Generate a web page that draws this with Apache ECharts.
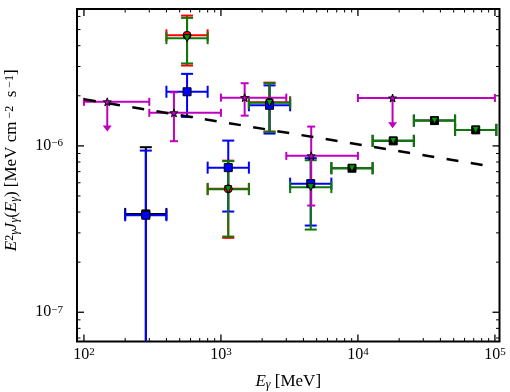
<!DOCTYPE html>
<html><head><meta charset="utf-8">
<script src="https://cdn.jsdelivr.net/npm/echarts@6/dist/echarts.min.js"></script>
<style>html,body{margin:0;padding:0;background:#fff}#c{width:510px;height:392px}</style>
</head><body><div id="c"></div>
<script>
// ---- data ----
// magenta stars (1 = upper limit, ylo = arrow tip)
const magX   = [148, 454, 1490, 4560, 17900];
const magY   = [1.84e-6, 1.58e-6, 1.95e-6, 8.71e-7, 1.94e-6];
const magXlo = [100, 300, 1000, 3000, 10000];
const magXhi = [300, 1000, 3000, 10000, 100000];
const magYlo = [1.22e-6, 1.067e-6, 1.52e-6, 4.38e-7, 1.277e-6];
const magYhi = [1.84e-6, 2.10e-6, 2.38e-6, 1.306e-6, 1.94e-6];
const magUL  = [1, 0, 0, 0, 1];
// blue squares
const blueX   = [283, 566, 1131, 2263, 4525];
const blueY   = [3.83e-7, 2.115e-6, 7.40e-7, 1.754e-6, 5.93e-7];
const blueXlo = [200, 400, 800, 1600, 3200];
const blueXhi = [400, 800, 1600, 3200, 6400];
const blueYlo = [1e-9, 1.494e-6, 4.03e-7, 1.186e-6, 3.32e-7];
const blueYhi = [9.37e-7, 2.71e-6, 1.076e-6, 2.31e-6, 8.44e-7];
// green triangles
const greenX   = [566, 1131, 2263, 4525, 9051, 18102, 36204, 72408];
const greenY   = [4.44e-6, 5.49e-7, 1.814e-6, 5.65e-7, 7.34e-7, 1.072e-6, 1.419e-6, 1.248e-6];
const greenXlo = [400, 800, 1600, 3200, 6400, 12800, 25600, 51200];
const greenXhi = [800, 1600, 3200, 6400, 12800, 25600, 51200, 102400];
const greenYlo = [3.13e-6, 2.85e-7, 1.214e-6, 3.14e-7, 7.34e-7, 1.072e-6, 1.419e-6, 1.248e-6];
const greenYhi = [5.88e-6, 8.09e-7, 2.38e-6, 8.20e-7, 7.34e-7, 1.072e-6, 1.419e-6, 1.248e-6];
// red circles
const redX   = [566, 1131, 2263];
const redY   = [4.62e-6, 5.52e-7, 1.83e-6];
const redXlo = [400, 800, 1600];
const redXhi = [800, 1600, 3200];
const redYlo = [3.04e-6, 2.80e-7, 1.22e-6];
const redYhi = [6.07e-6, 8.15e-7, 2.40e-6];
// black squares
const blackX   = [283, 9051, 18102, 36204, 72408];
const blackY   = [3.90e-7, 7.34e-7, 1.072e-6, 1.419e-6, 1.248e-6];
const blackXlo = [200, 6400, 12800, 25600, 51200];
const blackXhi = [400, 12800, 25600, 51200, 102400];
const blackYlo = [1e-9, 7.34e-7, 1.072e-6, 1.419e-6, 1.248e-6];
const blackYhi = [9.82e-7, 7.34e-7, 1.072e-6, 1.419e-6, 1.248e-6];
// dashed power law
const lineX = [100, 100000];
const lineY = [1.905e-6, 7.47e-7];
// axes
const xMin = 89, xMax = 108000;
const yMin = 6.67e-8, yMax = 6.65e-6;
const xMajor = [100, 1000, 10000, 100000];
const yMajor = [1e-7, 1e-6];

// ---- helpers ----
const rows = (X, Y, Xlo, Xhi, Ylo, Yhi, UL) =>
  X.map((x, i) => [x, Y[i], Xlo[i], Xhi[i], Ylo[i], Yhi[i], UL ? UL[i] : 0]);

function errRender(color, cap, lw) {
  return function (params, api) {
    const cs = params.coordSys;
    const T = cs.y, B = cs.y + cs.height;
    const cl = v => Math.max(T, Math.min(B, v));
    const x = api.value(0), y = api.value(1);
    const c = api.coord([x, y]);
    const pl = api.coord([api.value(2), y]), ph = api.coord([api.value(3), y]);
    const st = { stroke: color, lineWidth: lw };
    const ch = [];
    const L = (x1, y1, x2, y2) => ch.push({ type: 'line', shape: { x1, y1, x2, y2 }, style: st });
    L(pl[0], c[1], ph[0], c[1]);
    L(pl[0], c[1] - cap / 2, pl[0], c[1] + cap / 2);
    L(ph[0], c[1] - cap / 2, ph[0], c[1] + cap / 2);
    const ylo = api.value(4), yhi = api.value(5);
    if (api.value(6)) {
      const tip = api.coord([x, ylo])[1];
      L(c[0], c[1], c[0], tip - 5);
      ch.push({ type: 'polygon', shape: { points: [[c[0] - 4.5, tip - 6], [c[0] + 4.5, tip - 6], [c[0], tip]] }, style: { fill: color } });
    } else if (ylo !== yhi) {
      const a = api.coord([x, ylo])[1], b = api.coord([x, yhi])[1];
      L(c[0], cl(a), c[0], cl(b));
      if (a <= B) L(c[0] - cap / 2, a, c[0] + cap / 2, a);
      if (b >= T) L(c[0] - cap / 2, b, c[0] + cap / 2, b);
    }
    return { type: 'group', children: ch };
  };
}

function errSeries(data, color, cap, lw, z) {
  return { type: 'custom', data, renderItem: errRender(color, cap, lw), z, silent: true, animation: false,
           encode: { x: 0, y: 1 } };
}
function markSeries(X, Y, symbol, size, color, z, rot) {
  return { type: 'scatter', data: X.map((x, i) => [x, Y[i]]), symbol, symbolSize: size, symbolRotate: rot || 0,
           itemStyle: { color, borderColor: '#000', borderWidth: 1, opacity: 1 }, z, silent: true, animation: false };
}

// tick positions (axis decoration)
function minorOf(lo, hi) {
  const out = [];
  for (let d = Math.floor(Math.log10(lo)); d <= Math.ceil(Math.log10(hi)); d++)
    for (let m = 2; m <= 9; m++) { const v = m * Math.pow(10, d); if (v > lo && v < hi) out.push(v); }
  return out;
}
const xMinor = minorOf(xMin, xMax), yMinor = minorOf(yMin, yMax);

function tickRender(params, api) {
  const cs = params.coordSys;
  const Lx = cs.x, R = cs.x + cs.width, T = cs.y, B = cs.y + cs.height;
  const ch = [];
  const ln = (x1, y1, x2, y2, w) => ch.push({ type: 'line', shape: { x1, y1, x2, y2 }, style: { stroke: '#000', lineWidth: w } });
  const xt = xMajor.map(v => [v, 7, 1.3]).concat(xMinor.map(v => [v, 3.5, 1]));
  xt.forEach(([v, len, w]) => {
    const p = api.coord([v, yMin])[0];
    if (p < Lx + 1.5 || p > R - 1.5) return;
    ln(p, B, p, B - len, w); ln(p, T, p, T + len, w);
  });
  const yt = yMajor.map(v => [v, 7, 1.3]).concat(yMinor.map(v => [v, 3.5, 1]));
  yt.forEach(([v, len, w]) => {
    const p = api.coord([xMin, v])[1];
    if (p < T + 1.5 || p > B - 1.5) return;
    ln(Lx, p, Lx + len, p, w); ln(R, p, R - len, p, w);
  });
  return { type: 'group', children: ch };
}

const serif = 'Liberation Serif';
const labRich = {
  b: { fontFamily: serif, fontSize: 16, color: '#000', lineHeight: 16, padding: [5, 0, 0, 0], verticalAlign: 'bottom' },
  s: { fontFamily: serif, fontSize: 11, color: '#000', lineHeight: 11, verticalAlign: 'top' }
};
const decFmt = v => {
  const lg = Math.log10(v), e = Math.round(lg);
  if (Math.abs(lg - e) > 1e-6) return '';
  return '{b|10}{s|' + (e < 0 ? '\u2212' : '') + Math.abs(e) + '}';
};
const nameRich = {
  i: { fontFamily: serif, fontStyle: 'italic', fontSize: 17, color: '#000', lineHeight: 17, padding: [4, 0, 4, 0] },
  n: { fontFamily: serif, fontSize: 17, color: '#000', lineHeight: 17, padding: [4, 0, 4, 0] },
  sup: { fontFamily: serif, fontSize: 12, color: '#000', lineHeight: 12, verticalAlign: 'top' },
  sub: { fontFamily: serif, fontStyle: 'italic', fontSize: 12, color: '#000', lineHeight: 12, verticalAlign: 'bottom' }
};

const chart = echarts.init(document.getElementById('c'), null, { renderer: 'canvas' });
chart.setOption({
  animation: false,
  backgroundColor: '#fff',
  grid: { left: 77, top: 9, right: 10.5, bottom: 50.5, show: true, borderColor: '#000', borderWidth: 2,
          backgroundColor: 'transparent', containLabel: false, outerBoundsMode: 'none' },
  xAxis: {
    type: 'log', logBase: 10, min: xMin, max: xMax,
    axisLine: { show: false }, axisTick: { show: false }, splitLine: { show: false },
    axisLabel: { formatter: decFmt, rich: labRich, margin: 5, hideOverlap: false },
    name: '{i|E}{sub|\u03b3}{n| [MeV]}', nameLocation: 'middle', nameGap: 32,
    nameTextStyle: { rich: nameRich }
  },
  yAxis: {
    type: 'log', logBase: 10, min: yMin, max: yMax,
    axisLine: { show: false }, axisTick: { show: false }, splitLine: { show: false },
    axisLabel: { formatter: decFmt, rich: labRich, margin: 14, hideOverlap: false },
    name: '{i|E}{sup|2}{sub|\u03b3}{i|J}{sub|\u03b3}{n|(}{i|E}{sub|\u03b3}{n|) [MeV cm}{sup| \u22122}{n|  s}{sup| \u22121}{n|]}',
    nameLocation: 'middle', nameRotate: 90, nameGap: 55,
    nameTextStyle: { rich: nameRich, padding: [0, 0, 0, 30] }
  },
  series: [
    errSeries(rows(redX, redY, redXlo, redXhi, redYlo, redYhi), '#ff0000', 12, 2, 2),
    errSeries(rows(blackX, blackY, blackXlo, blackXhi, blackYlo, blackYhi), '#000000', 12, 2, 3),
    errSeries(rows(blueX, blueY, blueXlo, blueXhi, blueYlo, blueYhi), '#0000ff', 12, 2, 4),
    errSeries(rows(greenX, greenY, greenXlo, greenXhi, greenYlo, greenYhi), '#0b7a0b', 12, 2, 5),
    errSeries(rows(magX, magY, magXlo, magXhi, magYlo, magYhi, magUL), '#c000c0', 8, 2, 6),
    { type: 'line', data: lineX.map((x, i) => [x, lineY[i]]), symbol: 'none', z: 7, silent: true, animation: false,
      lineStyle: { color: '#000', width: 2.5, type: [12, 12.5] } },
    markSeries(blackX, blackY, 'rect', 8, '#000000', 9),
    markSeries(redX, redY, 'circle', 8, '#ff0000', 10),
    markSeries(blueX, blueY, 'rect', 8, '#0000ff', 12),
    markSeries(greenX, greenY, 'triangle', 7, '#00a000', 13, 180),
    markSeries(magX, magY, 'path://M0,-10L2.35,-3.24L9.51,-3.09L3.8,1.24L5.88,8.09L0,4L-5.88,8.09L-3.8,1.24L-9.51,-3.09L-2.35,-3.24Z', 8, '#c000c0', 14),
    { type: 'custom', data: [[1000, 1e-6]], renderItem: tickRender, z: 20, silent: true, animation: false, encode: { x: 0, y: 1 } }
  ]
});
</script></body></html>
